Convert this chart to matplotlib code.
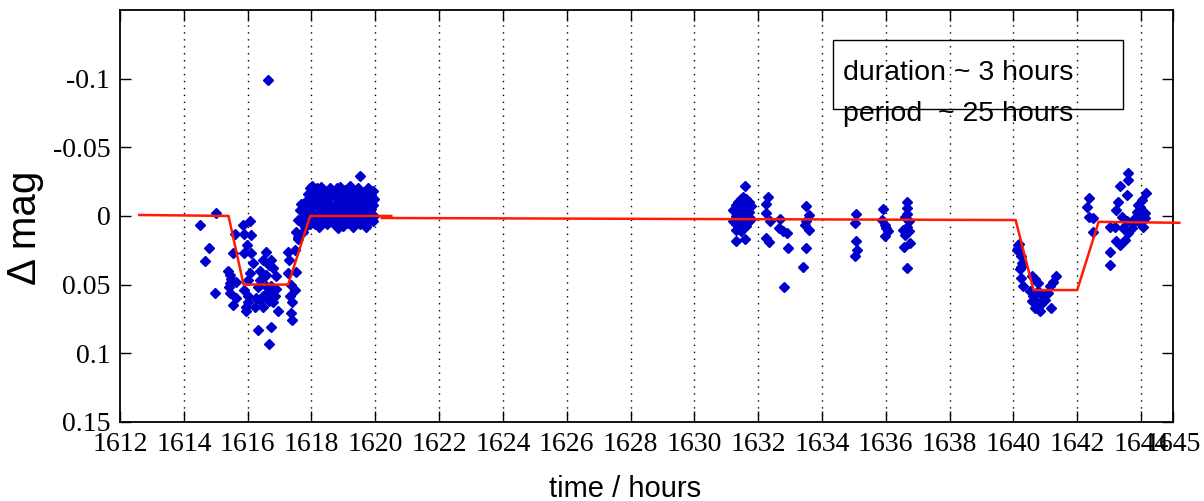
import matplotlib
matplotlib.use("Agg")
import matplotlib.pyplot as plt
from matplotlib.patches import Rectangle

# photometry, grouped as (time in hours, [delta mag values at that time])
night1 = [
    (1614.50, [0.0065]), (1614.67, [0.033]), (1614.78, [0.023]),
    (1614.97, [0.056]), (1615.02, [-0.002]), (1615.39, [0.040]),
    (1615.40, [0.052]), (1615.45, [0.043, 0.049, 0.056]), (1615.47, [0.046]),
    (1615.55, [0.027, 0.065]), (1615.59, [0.013]), (1615.62, [0.048, 0.060]),
    (1615.86, [0.0065]), (1615.90, [0.0135, 0.027, 0.054]),
    (1615.95, [0.066, 0.069]), (1615.99, [0.021]),
    (1616.02, [0.047, 0.058, 0.063]), (1616.06, [0.0415]),
    (1616.07, [0.0034]), (1616.09, [0.014]), (1616.12, [0.027]),
    (1616.17, [0.034]), (1616.22, [0.066]), (1616.27, [0.060]),
    (1616.33, [0.052, 0.083]), (1616.40, [0.040, 0.047, 0.061]),
    (1616.48, [0.032, 0.058, 0.066]), (1616.59, [0.026, 0.043, 0.051]),
    (1616.64, [-0.099]), (1616.66, [0.0935]),
    (1616.68, [0.036, 0.055, 0.062]), (1616.72, [0.081]),
    (1616.74, [0.032, 0.051]), (1616.80, [0.038, 0.063]),
    (1616.85, [0.058]), (1616.90, [0.044, 0.053]), (1616.95, [0.069]),
    (1617.27, [0.026, 0.0415]), (1617.29, [0.032]), (1617.32, [0.058]),
    (1617.37, [0.050, 0.0705]), (1617.40, [0.063, 0.076]),
    (1617.47, [0.025, 0.054]), (1617.53, [0.012, 0.041]),
    (1617.58, [0.003, 0.015, 0.017]), (1617.63, [-0.004]),
    (1617.68, [-0.009]),
    (1617.72, [-0.004, 0.006, 0.012]), (1617.80, [-0.010, 0.000, 0.008]),
    (1617.88, [-0.016, -0.006, 0.004]),
    (1617.95, [-0.020, -0.012, -0.002, 0.006]),
    (1618.02, [-0.022, -0.014, -0.006, 0.002]),
    (1618.06, [-0.017, -0.003]),
    (1618.10, [-0.018, -0.010, 0.000, 0.006]),
    (1618.18, [-0.020, -0.008, 0.004]), (1618.25, [-0.014, -0.004, 0.008]),
    (1618.29, [-0.021, -0.008, 0.004]),
    (1618.33, [-0.019, -0.010, -0.001]), (1618.42, [-0.016, -0.006, 0.003]),
    (1618.50, [-0.012, -0.002, 0.006]), (1618.54, [-0.016, -0.005]),
    (1618.58, [-0.020, -0.009, 0.002]),
    (1618.66, [-0.015, -0.004, 0.005]), (1618.74, [-0.018, -0.008, 0.000]),
    (1618.79, [-0.020, -0.006, 0.006]),
    (1618.83, [-0.012, -0.002, 0.009]), (1618.90, [-0.021, -0.010, 0.004]),
    (1618.98, [-0.016, -0.006, 0.007]), (1619.02, [-0.013, 0.002]),
    (1619.06, [-0.019, -0.011, -0.002]),
    (1619.14, [-0.014, -0.004, 0.005]), (1619.22, [-0.022, -0.009, 0.002]),
    (1619.26, [-0.019, -0.003]),
    (1619.30, [-0.016, -0.006, 0.008]), (1619.38, [-0.012, -0.001, 0.004]),
    (1619.45, [-0.020, -0.008, 0.003]), (1619.49, [-0.011, 0.001]),
    (1619.53, [-0.029, -0.014, -0.004, 0.006]),
    (1619.62, [-0.017, -0.007, 0.002]), (1619.70, [-0.012, -0.003, 0.008]),
    (1619.74, [-0.016, -0.001]),
    (1619.78, [-0.020, -0.010, 0.005]), (1619.86, [-0.015, -0.005, 0.003]),
    (1619.93, [-0.018, -0.008, 0.004]), (1619.97, [-0.012, 0.000]),
]

night2 = [
    (1631.22, [-0.004, 0.004]), (1631.30, [-0.008, 0.000, 0.006, 0.010]),
    (1631.32, [0.0186]), (1631.38, [-0.010, -0.003, 0.003, 0.008]),
    (1631.46, [-0.012, -0.006, 0.000, 0.005, 0.011]),
    (1631.54, [-0.014, -0.008, -0.002, 0.004, 0.009]),
    (1631.58, [-0.022, 0.017]), (1631.62, [-0.012, -0.005, 0.001, 0.007]),
    (1631.70, [-0.010, -0.003, 0.004]), (1631.78, [-0.007, 0.002]),
    (1632.26, [-0.009, -0.002, 0.016]), (1632.31, [-0.014]),
    (1632.34, [0.019]), (1632.36, [0.004]), (1632.65, [0.009]),
    (1632.68, [0.0024]), (1632.78, [0.011]), (1632.81, [0.052]),
    (1632.89, [0.0126]), (1632.92, [0.023]),
    (1633.41, [0.037]), (1633.46, [0.0065]), (1633.51, [-0.007, 0.004, 0.023]),
    (1633.59, [-0.0007, 0.0106]),
    (1635.03, [0.0048, 0.0295]), (1635.08, [-0.0014, 0.018]),
    (1635.11, [0.025]),
    (1635.89, [0.003]), (1635.92, [-0.0048]), (1635.97, [0.0065, 0.0145]),
    (1636.02, [0.009]), (1636.08, [0.011]),
    (1636.55, [0.0106]), (1636.58, [0.0227]), (1636.60, [0.0005, 0.0138]),
    (1636.65, [-0.0104, -0.0056, 0.0077]), (1636.68, [-0.0014, 0.038]),
    (1636.72, [0.004, 0.011]), (1636.75, [0.0198]),
]

night3 = [
    (1640.10, [0.0246]), (1640.15, [0.021]), (1640.17, [0.0203]),
    (1640.20, [0.039]), (1640.23, [0.0295]), (1640.25, [0.037, 0.045]),
    (1640.28, [0.0343]), (1640.31, [0.051]), (1640.51, [0.055]),
    (1640.57, [0.044, 0.062]), (1640.62, [0.058]), (1640.67, [0.046, 0.067]),
    (1640.72, [0.062]), (1640.78, [0.049, 0.055]), (1640.83, [0.069]),
    (1640.88, [0.0645]), (1640.94, [0.058]), (1640.98, [0.061]),
    (1641.07, [0.056]), (1641.14, [0.051]), (1641.17, [0.067]),
    (1641.25, [0.048]), (1641.33, [0.044]),
    (1642.32, [-0.0068]), (1642.36, [-0.0128, 0.0005]),
    (1642.50, [0.0017, 0.0114]),
    (1643.02, [0.0077, 0.026, 0.0355]), (1643.18, [0.0077]),
    (1643.23, [-0.0043, 0.0186]), (1643.29, [-0.0104]),
    (1643.34, [-0.0217, 0.021]), (1643.39, [0.0005]), (1643.44, [0.009]),
    (1643.49, [0.0174]), (1643.55, [-0.015, 0.004]),
    (1643.60, [-0.031, -0.026, 0.0126]), (1643.71, [0.009]),
    (1643.76, [0.0053]), (1643.81, [0.0017]), (1643.86, [-0.003]),
    (1643.91, [-0.008, 0.004]), (1643.96, [-0.0068]),
    (1644.02, [-0.0116, -0.002]), (1644.07, [0.0077]),
    (1644.12, [-0.002, 0.0017]), (1644.17, [-0.0164]),
]

# transit model, two pieces
model1_t = [1612.6, 1615.4, 1615.87, 1617.27, 1617.96, 1620.5]
model1_m = [-0.0007, 0.0, 0.050, 0.050, 0.0, 0.0]
model2_t = [1620.2, 1640.07, 1640.63, 1642.0, 1642.67, 1645.2]
model2_m = [0.0015, 0.003, 0.054, 0.054, 0.0043, 0.005]

xticks = list(range(1612, 1645, 2)) + [1645]
yticks = [-0.1, -0.05, 0, 0.05, 0.1, 0.15]
ytick_labels = ["-0.1", "-0.05", "0", "0.05", "0.1", "0.15"]

info_lines = ["duration ~ 3 hours", "period  ~ 25 hours"]


def flatten(cols):
    t, m = [], []
    for time, vals in cols:
        for v in vals:
            t.append(time)
            m.append(v)
    return t, m


fig = plt.figure(figsize=(12.04, 5.01), dpi=100)
ax = fig.add_axes([0.0997, 0.158, 0.8745, 0.822])

for x in xticks[1:-1]:
    ax.axvline(x, color="black", lw=1.0, ls=(0, (1, 4)), zorder=0)

for cols in (night1, night2, night3):
    t, m = flatten(cols)
    ax.plot(t, m, ls="none", marker="D", ms=5.5, color="#0000cc",
            mec="#0000cc", zorder=2)

ax.plot(model1_t, model1_m, color="#ff1a00", lw=1.8, zorder=3, clip_on=False)
ax.plot(model2_t, model2_m, color="#ff1a00", lw=1.8, zorder=3, clip_on=False)

ax.set_xlim(1612, 1645)
ax.set_ylim(0.15, -0.15)
ax.set_xticks(xticks)
ax.set_xticklabels([str(x) for x in xticks], family="Liberation Serif", fontsize=20)
ax.set_yticks(yticks)
ax.set_yticklabels(ytick_labels, family="Liberation Serif", fontsize=20)
ax.tick_params(direction="in", length=8, width=1, top=True, right=True, pad=7)

for s in ax.spines.values():
    s.set_linewidth(1.3)

ax.set_xlabel("time / hours", family="Liberation Sans", fontsize=21)
ax.xaxis.set_label_coords(0.48, -0.13)
ax.set_ylabel("\u0394 mag", family="Liberation Sans", fontsize=29)
ax.yaxis.set_label_coords(-0.072, 0.47)

# info box with the transit parameters
ax.add_patch(Rectangle((1634.36, -0.128), 9.06, 0.05, fill=False,
                       edgecolor="black", lw=1.0, zorder=4))
ax.text(1634.67, -0.104, info_lines[0], family="Liberation Sans",
        fontsize=20.5, va="center", ha="left", zorder=5)
ax.text(1634.67, -0.0746, info_lines[1], family="Liberation Sans",
        fontsize=20.5, va="center", ha="left", zorder=5)

fig.savefig("out.png", dpi=100)
